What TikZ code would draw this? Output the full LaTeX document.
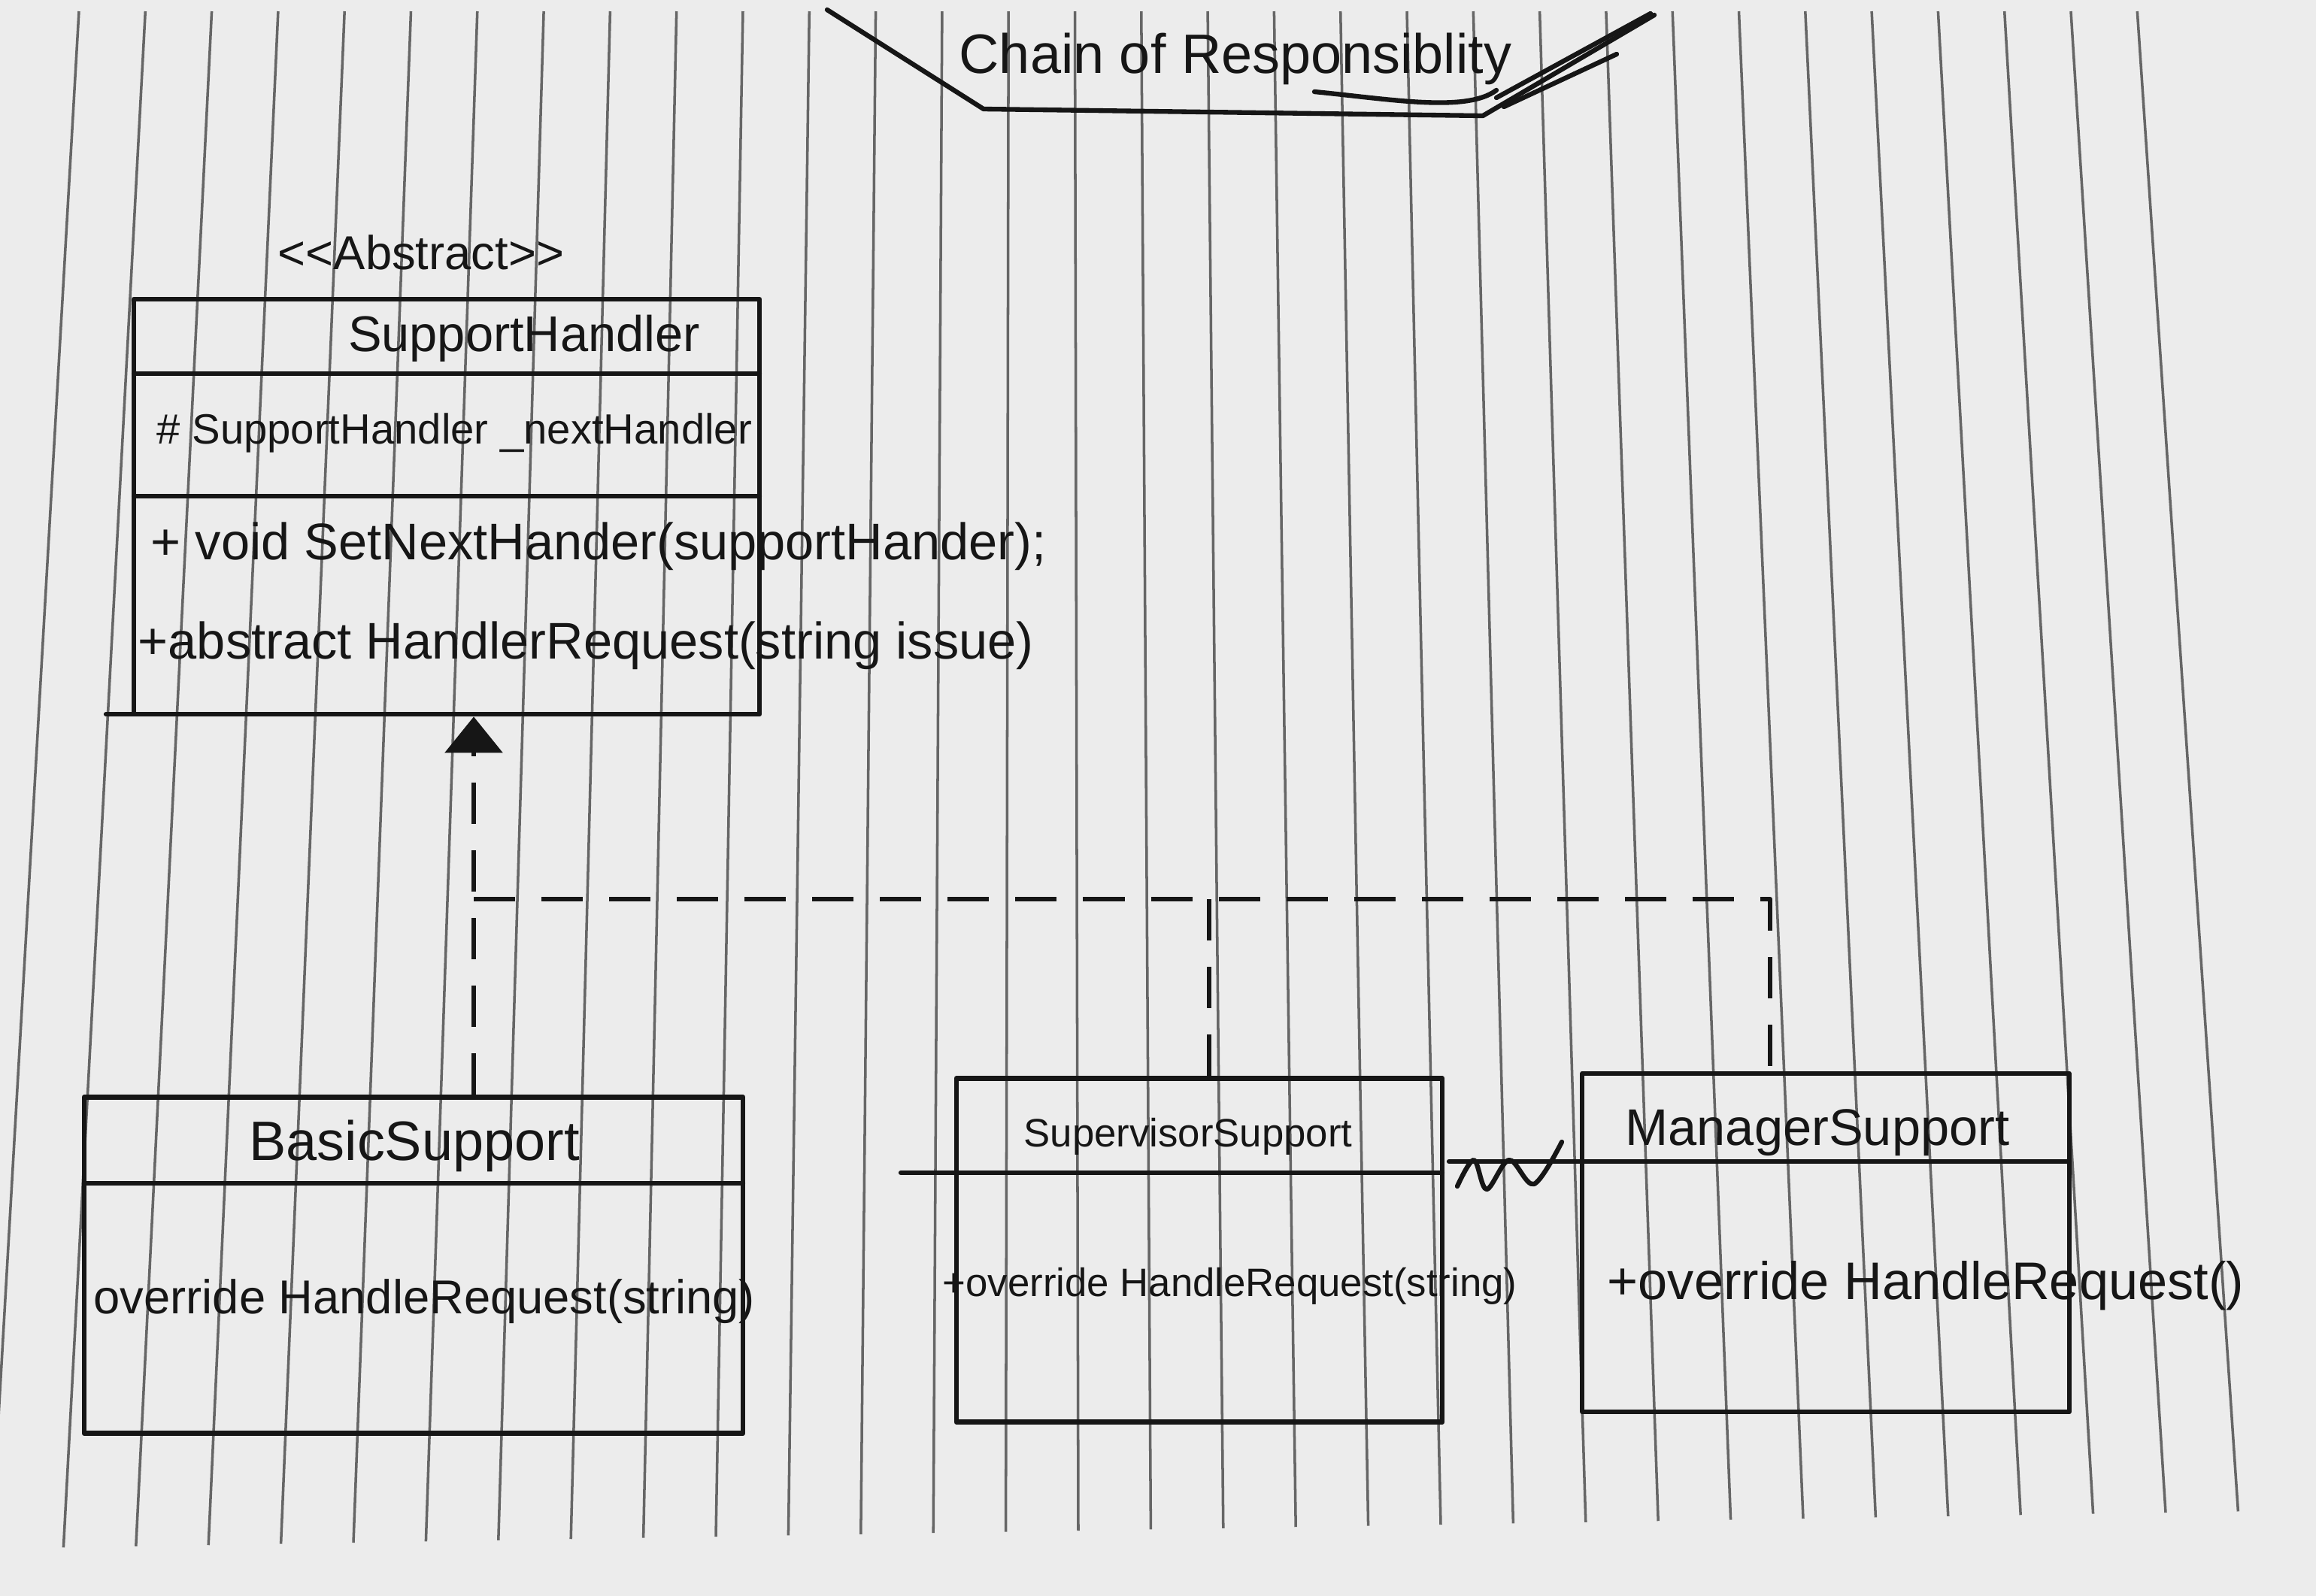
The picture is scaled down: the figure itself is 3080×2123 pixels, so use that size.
\documentclass[tikz,border=0pt]{standalone}
\usepackage{fontspec}
\setmainfont{Liberation Sans}
\usetikzlibrary{arrows.meta, positioning}

\definecolor{paper}{RGB}{236,236,236}
\definecolor{ink}{RGB}{22,22,22}

\begin{document}
\begin{tikzpicture}[
    x=0.01cm, y=-0.01cm,
    pen/.style={draw=ink, line width=1.8pt, line cap=round, line join=round},
    rule/.style={draw=black!60, line width=1pt},
    classbox/.style={pen, rectangle, inner sep=0pt},
    txt/.style={font=\fontsize{#1}{#1}\selectfont, text=ink, inner sep=0pt},
    realize/.style={pen, line cap=butt, dash pattern=on 5.5mm off 3.5mm}
]

% Hoja de cuaderno
\fill[paper] (0,0) rectangle (3080,2123);
\useasboundingbox (0,0) rectangle (3080,2123);

% Renglones verticales
\foreach \i in {0,...,31} {
    \draw[rule] ({105+88.3*\i},15) -- ({-12+96.4*\i},{2060-1.6*\i});
}

% ==========================
% TITULO
% ==========================
\node[txt=21pt, anchor=base] (title) at (1643,97) {Chain of Responsiblity};
\draw[pen] (1100,13) -- (1308,145) -- (1972,154) -- (2200,20);
\draw[pen] (1748,122) .. controls (1850,132) and (1950,150) .. (1990,120);
\draw[pen] (1990,130) -- (2195,18);
\draw[pen] (2000,142) -- (2150,72);

% ==========================
% CLASE ABSTRACTA
% ==========================
\node[txt=18pt, anchor=base] (stereo) at (560,358) {<{}<Abstract>{}>};
\node[classbox, minimum width=8.32cm, minimum height=5.52cm] (handler) at (594,674) {};
\draw[pen] (178,497) -- (1010,497);
\draw[pen] (178,660) -- (1010,660);
\draw[pen] (141,950) -- (178,950);

\node[txt=19pt, anchor=base] (hname) at (697,467) {SupportHandler};
\node[txt=16pt, anchor=base west] (hattr) at (208,590) {\# SupportHandler \_nextHandler};
\node[txt=19.5pt, anchor=base west] (hset) at (200,744) {+ void SetNextHander(supportHander);};
\node[txt=19.5pt, anchor=base west] (hreq) at (183,876) {+abstract HandlerRequest(string issue)};

% ==========================
% CLASES CONCRETAS
% ==========================
\node[classbox, minimum width=8.76cm, minimum height=4.47cm] (basic) at (550,1683) {};
\draw[pen] (112,1574) -- (988,1574);
\node[txt=21pt, anchor=base] (bname) at (551,1543) {BasicSupport};
\node[txt=18pt, anchor=base west] (bop) at (124,1747) {override HandleRequest(string)};

\node[classbox, minimum width=6.46cm, minimum height=4.57cm] (supervisor) at (1595,1663) {};
\draw[pen] (1198,1560) -- (1918,1560);
\node[txt=15pt, anchor=base] (sname) at (1580,1525) {SupervisorSupport};
\node[txt=15pt, anchor=base west] (sop) at (1253,1724) {+override HandleRequest(string)};

\node[classbox, minimum width=6.47cm, minimum height=4.50cm] (manager) at (2428,1653) {};
\draw[pen] (1927,1545) -- (2752,1545);
\node[txt=19.5pt, anchor=base] (mname) at (2417,1523) {ManagerSupport};
\node[txt=20pt, anchor=base west] (mop) at (2137,1728) {+override HandleRequest()};

% Trazo entre supervisor y manager
\draw[pen] plot[smooth, tension=0.55] coordinates {(1938,1578) (1960,1543) (1977,1582) (2007,1543) (2040,1575) (2077,1519)};

% ==========================
% HERENCIA
% ==========================
\coordinate (bus) at (630,1196);
\coordinate (jsup) at (1608,1196);
\coordinate (jmgr) at (2354,1196);

\draw[realize, -{Triangle[width=7.6mm, length=4.8mm]}] (basic.north -| bus) -- (handler.south -| bus);
\draw[realize] (bus) -- (jmgr) -- (jmgr |- manager.north);
\draw[realize] (jsup) -- (jsup |- supervisor.north);

\end{tikzpicture}
\end{document}
